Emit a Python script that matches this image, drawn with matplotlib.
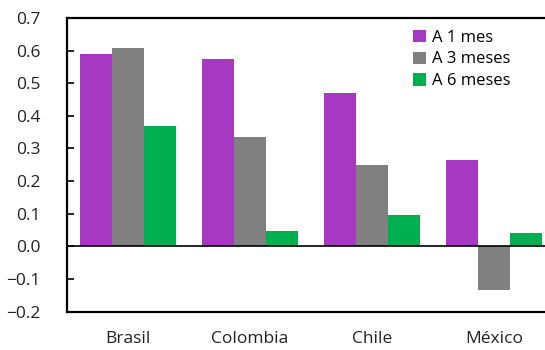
import matplotlib.pyplot as plt
import numpy as np

plt.rcParams['font.family'] = ['Open Sans', 'DejaVu Sans']

# Data
countries = ['Brasil', 'Colombia', 'Chile', 'México']
series_names = ['A 1 mes', 'A 3 meses', 'A 6 meses']
a_1_mes = [0.59, 0.573, 0.469, 0.266]
a_3_meses = [0.609, 0.335, 0.248, -0.135]
a_6_meses = [0.37, 0.046, 0.096, 0.04]
colors = ['#A738C2', '#808080', '#00B050']

fig = plt.figure(figsize=(5.45, 3.5), dpi=100)
ax = fig.add_axes([67 / 545, 1 - 311.5 / 350, 1 - 67 / 545, (311.5 - 18) / 350])

x = np.arange(len(countries))
w = 0.262
for i, (vals, name) in enumerate(zip([a_1_mes, a_3_meses, a_6_meses], series_names)):
    ax.bar(x + (i - 1) * w, vals, w, color=colors[i], label=name, zorder=2)

ax.axhline(0, color='black', lw=1.2, zorder=3)
ax.set_ylim(-0.2, 0.7)
ax.set_xlim(-0.5, 3.42)
ticks = np.arange(-0.2, 0.71, 0.1)
ax.set_yticks(ticks)
ax.set_yticklabels([f'{v:.1f}'.replace('-', '\u2212') for v in ticks])
ax.set_xticks(x)
ax.set_xticklabels(countries)

ax.tick_params(axis='y', direction='in', length=5, width=1.2, pad=19, labelsize=12.5, labelcolor='#222222')
ax.tick_params(axis='x', length=0, pad=14, labelsize=12.5, labelcolor='#222222')

for s in ['left', 'top', 'bottom']:
    ax.spines[s].set_linewidth(1.6)
ax.spines['right'].set_visible(False)

ax.legend(loc='upper left', bbox_to_anchor=(0.70, 1.0), frameon=False,
          fontsize=12, handlelength=0.75, handleheight=0.75, handletextpad=0.4,
          labelspacing=0.35, borderaxespad=0.3)

fig.savefig('out.png', dpi=100)
